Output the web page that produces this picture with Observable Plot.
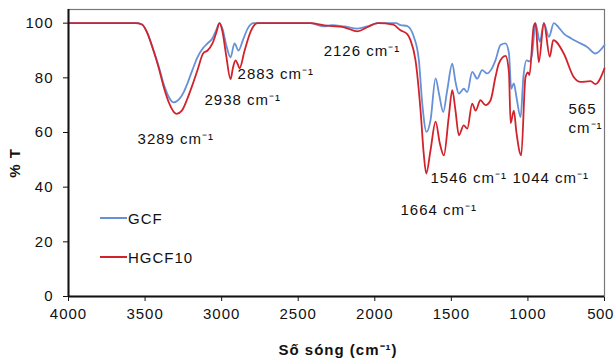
<!DOCTYPE html>
<html>
<head>
<meta charset="utf-8">
<script src="https://cdn.jsdelivr.net/npm/d3@7"></script>
<script src="https://cdn.jsdelivr.net/npm/@observablehq/plot@0.6"></script>
<style>
  html, body { margin: 0; padding: 0; background: #fff; }
  #wrap { position: relative; width: 616px; height: 360px; font-family: "Liberation Sans", Arial, sans-serif; }
  #legend { position: absolute; left: 100px; top: 0; font-size: 15px; letter-spacing: 1px; color: #111; }
  .item { position: absolute; left: 0; white-space: nowrap; display: flex; align-items: center; height: 20px; }
  .swatch { display: inline-block; width: 27px; height: 1.6px; margin-right: 1px; }
</style>
</head>
<body>
<div id="wrap"></div>
<script>
// Series names
const seriesNames = ["GCF", "HGCF10"];
const seriesColors = ["#6690d8", "#d2232b"];

// GCF: wavenumber (cm-1) and %T
const gcfWn = [4000,3700,3560,3520,3490,3445,3410,3380,3345,3314,3280,3250,3223,3190,3158,3120,3092,3060,3035,3014,2995,2970,2942,2916,2890,2860,2830,2792,2420,2330,2280,2200,2113,2050,1980,1860,1832,1790,1745,1712,1690,1662,1636,1603,1580,1553,1527,1494,1473,1451,1419,1396,1364,1331,1299,1266,1240,1212,1179,1146,1124,1109,1092,1075,1048,1030,1009,990,972,951,922,896,863,831,800,766,720,678,613,559,500];
const gcfT  = [100,100,100,99.5,97,90,84,78,73,71,72,74.5,78,83,87.5,91,92.6,94.5,97.5,100,98,92,87.5,92.6,90,94,98,100,100,98.8,99.3,98.8,98,98.8,100,100,99.3,99,95,86.4,70.6,60.2,64.5,79.8,74,67.5,75.5,85.2,78.5,74.2,76,74.8,82.2,79.7,82.8,81.6,83,86.4,92,92.6,89,76,78,73,65.6,80,86.4,86,89,100,93.2,100,95,100,98.5,96.2,94.5,93.2,91.3,88.9,92];

// HGCF10: wavenumber (cm-1) and %T
const hgcfWn = [4000,3700,3560,3520,3490,3445,3410,3380,3345,3295,3260,3223,3190,3158,3120,3092,3060,3035,3014,2995,2970,2942,2925,2909,2895,2883,2850,2810,2766,2420,2330,2200,2113,2050,1980,1880,1832,1788,1767,1734,1701,1680,1664,1636,1603,1575,1549,1517,1494,1473,1451,1419,1396,1364,1342,1310,1277,1244,1212,1190,1146,1124,1113,1092,1075,1044,1016,1000,990,962,951,929,896,857,835,766,701,657,591,559,500];
const hgcfT  = [100,100,100,99.5,97,90,83.5,77,71,66.8,68,72.5,77.5,82.8,89,90,92.6,96.5,100,97,88,79.5,84,86.4,85,83.5,90,97,100,100,99.2,98.5,97,98.5,100,99.5,97.4,96,93.8,86.4,68,52,45,53.5,64,56,51.6,65.7,75.5,68,59,62.6,61.4,70.6,68,71.8,70,71.8,80.3,85.2,88,82,63.4,68,60,51.6,80.2,82,81,99,100,85.8,100,87.7,93.8,88.9,80.3,78.5,78.8,77.7,83.5];

// Axis ticks
const xTicks = [4000,3500,3000,2500,2000,1500,1000,500];
const yTicks = [0,20,40,60,80,100];
const xDomain = [4000, 500];
const yDomain = [0, 105];

// Peak annotations (label, wavenumber, %T where the label sits)
const annLabels = ["3289 cm⁻¹","2938 cm⁻¹","2883 cm⁻¹","2126 cm⁻¹","1664 cm⁻¹","1546 cm⁻¹","1044 cm⁻¹","565\ncm⁻¹"];
const annWn     = [3549, 3112, 2896, 2334, 1832, 1636, 1101, 735];
const annT      = [57.9, 72.2, 81.7, 90.1, 32.2, 43.6, 43.6, 65.4];

const xTitle = "Số sóng (cm⁻¹)";
const yTitle = "% T";

const rows = [
  ...gcfWn.map((w, i) => ({s: seriesNames[0], wn: w, t: gcfT[i]})),
  ...hgcfWn.map((w, i) => ({s: seriesNames[1], wn: w, t: hgcfT[i]}))
];
const anns = annLabels.map((l, i) => ({l, wn: annWn[i], t: annT[i]}));

const plot = Plot.plot({
  width: 616, height: 360,
  marginLeft: 68, marginRight: 12, marginTop: 9, marginBottom: 64,
  style: {fontFamily: "'Liberation Sans', Arial, sans-serif", fontSize: "15px", letterSpacing: "1px", color: "#111", background: "#fff", overflow: "visible"},
  x: {domain: xDomain, ticks: xTicks, tickFormat: d => String(d), tickSize: 5, tickPadding: 7, label: null},
  y: {domain: yDomain, ticks: yTicks, tickSize: 5, tickPadding: 10, label: null},
  color: {domain: seriesNames, range: seriesColors},
  marks: [
    Plot.frame({stroke: "#777", strokeWidth: 1.2}),
    Plot.line(rows, {x: "wn", y: "t", z: "s", stroke: "s", strokeWidth: 1.8, curve: "monotone-x"}),
    Plot.ruleX([xDomain[0]], {stroke: "#111", strokeWidth: 2}),
    Plot.ruleY([yDomain[0]], {stroke: "#111", strokeWidth: 2}),
    Plot.text(anns, {x: "wn", y: "t", text: "l", textAnchor: "start", fontSize: 15, fill: "#111", lineHeight: 1.27})
  ]
});

const svg = d3.select(plot);
// keep the last x tick label inside the picture
svg.selectAll("[aria-label='x-axis tick label'] text")
  .filter(function() { return this.textContent === String(xDomain[1]); })
  .attr("dx", -4).style("letter-spacing", "0.5px");
svg.append("text")
  .attr("x", 338).attr("y", 355)
  .attr("text-anchor", "middle")
  .attr("font-weight", "bold").attr("font-size", 15)
  .attr("fill", "#111")
  .text(xTitle);
svg.append("text")
  .attr("transform", "translate(20,163) rotate(-90)")
  .attr("text-anchor", "middle")
  .attr("font-weight", "bold").attr("font-size", 15)
  .attr("fill", "#111")
  .text(yTitle);

const wrap = document.getElementById("wrap");
wrap.appendChild(plot);

const legend = document.createElement("div");
legend.id = "legend";
const legendTops = [208, 247];
seriesNames.forEach((n, i) => {
  const it = document.createElement("div");
  it.className = "item";
  it.style.top = legendTops[i] + "px";
  const sw = document.createElement("span");
  sw.className = "swatch";
  sw.style.background = seriesColors[i];
  it.appendChild(sw);
  it.appendChild(document.createTextNode(n));
  legend.appendChild(it);
});
wrap.appendChild(legend);
</script>
</body>
</html>
